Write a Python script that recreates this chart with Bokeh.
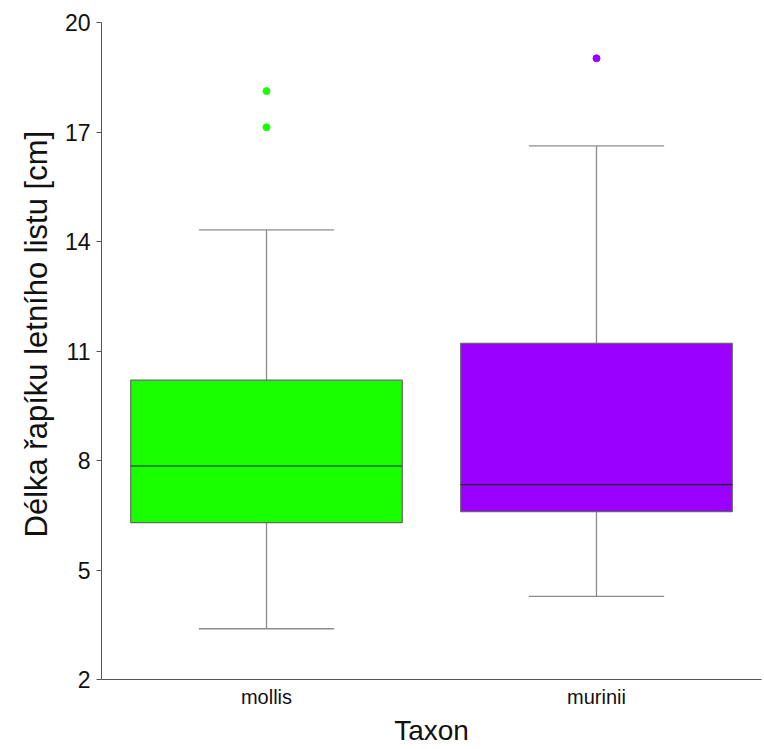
from bokeh.plotting import figure
from bokeh.models import FactorRange, Range1d, FixedTicker, ColumnDataSource, Title
from bokeh.transform import dodge
from bokeh.embed import file_html
from bokeh.resources import INLINE

taxa = ["mollis", "murinii"]
q1 = [6.30, 6.60]
median = [7.85, 7.34]
q3 = [10.20, 11.21]
lower = [3.39, 4.28]
upper = [14.32, 16.62]
colors = ["#1aff00", "#9900ff"]
out_taxa = ["mollis", "mollis", "murinii"]
out_vals = [17.13, 18.12, 19.02]
out_colors = ["#1aff00", "#1aff00", "#9900ff"]
y_ticks = [2, 5, 8, 11, 14, 17, 20]
y_title = "Délka řapíku letního listu [cm]"
x_title = "Taxon"

src = ColumnDataSource(dict(taxa=taxa, q1=q1, median=median, q3=q3,
                            lower=lower, upper=upper, colors=colors))
osrc = ColumnDataSource(dict(taxa=out_taxa, vals=out_vals, colors=out_colors))

p = figure(width=763, height=748, x_range=FactorRange(*taxa, range_padding=0),
           y_range=Range1d(2, 20), output_backend="svg", toolbar_location=None,
           min_border_left=101, min_border_right=2, min_border_top=22,
           min_border_bottom=69)
p.outline_line_color = None
p.xgrid.grid_line_color = None
p.ygrid.grid_line_color = None
p.background_fill_color = "white"

wcol = "#8c8c8c"
# whiskers
p.segment(x0="taxa", y0="q3", x1="taxa", y1="upper", source=src,
          line_color=wcol, line_width=1.3)
p.segment(x0="taxa", y0="q1", x1="taxa", y1="lower", source=src,
          line_color=wcol, line_width=1.3)
# caps
p.segment(x0=dodge("taxa", -0.205, range=p.x_range), y0="upper",
          x1=dodge("taxa", 0.205, range=p.x_range), y1="upper", source=src,
          line_color=wcol, line_width=1.3)
p.segment(x0=dodge("taxa", -0.205, range=p.x_range), y0="lower",
          x1=dodge("taxa", 0.205, range=p.x_range), y1="lower", source=src,
          line_color=wcol, line_width=1.3)
# boxes
p.vbar(x="taxa", top="q3", bottom="q1", width=0.823, source=src,
       fill_color="colors", line_color="#666666", line_width=1.2)
# medians
p.segment(x0=dodge("taxa", -0.4115, range=p.x_range), y0="median",
          x1=dodge("taxa", 0.4115, range=p.x_range), y1="median", source=src,
          line_color="#222222", line_width=1.2)
# outliers
p.scatter(x="taxa", y="vals", source=osrc, size=7, fill_color="colors",
          line_color="colors")

font = "Liberation Sans"
p.yaxis.ticker = FixedTicker(ticks=y_ticks)
p.yaxis.minor_tick_line_color = None
p.yaxis.major_tick_in = 0
p.yaxis.major_tick_out = 5
p.yaxis.axis_line_color = "#555555"
p.yaxis.major_tick_line_color = "#555555"
p.yaxis.major_label_text_font = font
p.yaxis.major_label_text_font_size = "23px"
p.yaxis.major_label_text_color = "#111111"
p.yaxis.major_label_standoff = 6

# y title as a left-side title so that it can be offset along the axis
p.add_layout(Title(text=y_title, align="left", offset=142,
                   vertical_align="middle", text_font=font,
                   text_font_size="31px", text_font_style="normal",
                   text_color="#111111", standoff=14), "left")

p.xaxis.major_tick_line_color = None
p.xaxis.minor_tick_line_color = None
p.xaxis.axis_line_color = "#555555"
p.xaxis.major_label_text_font = font
p.xaxis.major_label_text_font_size = "20px"
p.xaxis.major_label_text_color = "#111111"
p.xaxis.major_label_standoff = 0
p.xaxis.axis_label = x_title
p.xaxis.axis_label_text_font = font
p.xaxis.axis_label_text_font_size = "28px"
p.xaxis.axis_label_text_font_style = "normal"
p.xaxis.axis_label_text_color = "#111111"
p.xaxis.axis_label_standoff = 4

open("out.html", "w").write(file_html(p, INLINE))
